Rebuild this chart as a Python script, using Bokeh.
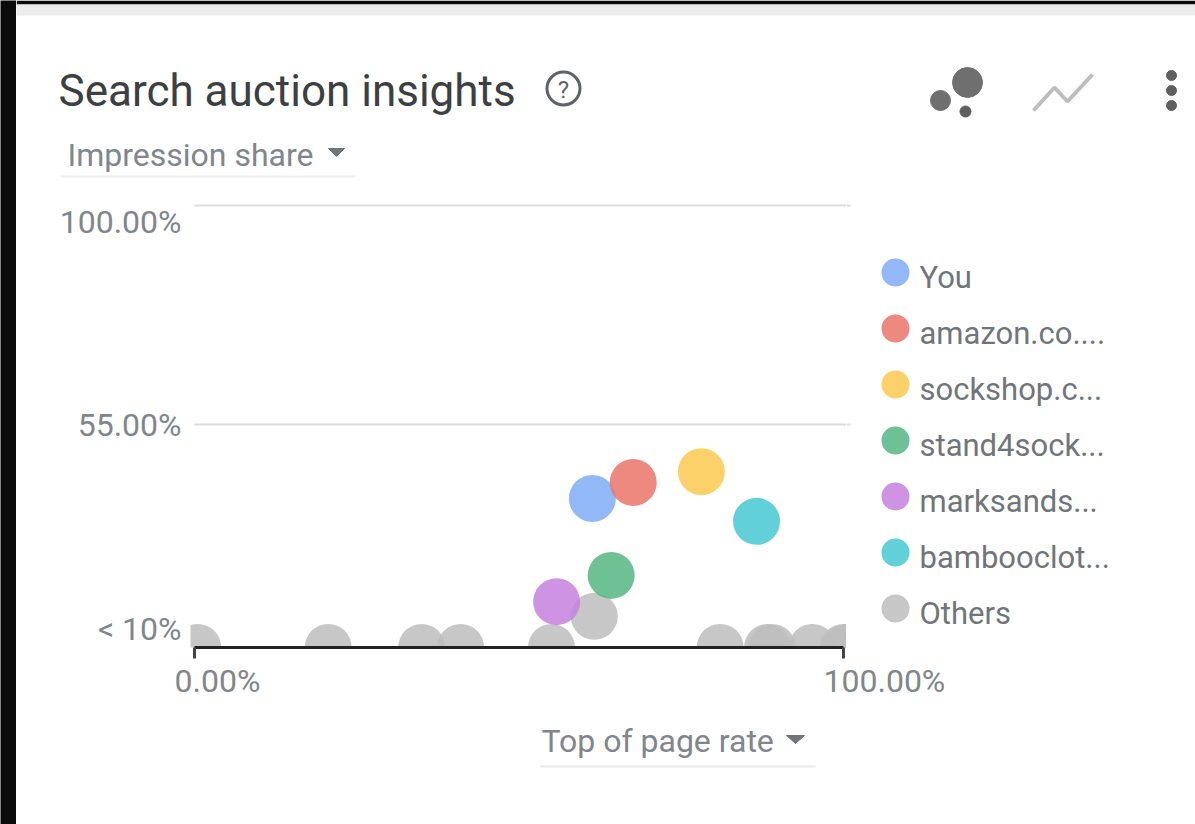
from bokeh.core.properties import value
from bokeh.embed import file_html
from bokeh.layouts import column, row
from bokeh.models import ColumnDataSource, FixedTicker, Range1d
from bokeh.plotting import figure
from bokeh.resources import INLINE

# Competitor bubbles: top of page rate (x) against impression share (y), in percent
series_names = ["You", "amazon.co....", "sockshop.c...", "stand4sock...", "marksands...", "bambooclot...", "Others"]
top_of_page_rate = [[61.3], [67.6], [78.1], [64.2], [55.8], [86.6],
                    [0.5, 20.6, 35.0, 41.0, 55.0, 61.6, 81.0, 88.3, 89.0, 95.2, 100.0, 100.6]]
impression_share = [[39.8], [43.1], [45.3], [24.0], [18.6], [35.1],
                    [9.2, 9.2, 9.2, 9.2, 9.2, 15.6, 9.2, 9.2, 9.2, 9.2, 9.2, 9.2]]
series_colors = ["#7fabf7", "#ea7468", "#fbc94f", "#55b683", "#c681de", "#45c8d2", "#bdbdbd"]

x_ticks = [0, 100]
x_tick_labels = ["0.00%", "100.00%"]
y_ticks = [100, 55, 10]
y_tick_labels = ["100.00%", "55.00%", "< 10%"]
grid_values = [100, 55]

WIDTH, HEIGHT = 1195, 824
EDGE = 16  # width of the dark band down the left of the page
PLOT_L, PLOT_R, PLOT_T, PLOT_B = 190, 846, 200, 647
BAND_B = 660  # lower edge of the row holding the plot and its axis ticks
FONT = value("Roboto")
GREY_TEXT = "#80868b"
DARK = "#0a0a0a"

# Linear scales shared by the plot and the panels around it
X_PER_PX = 1 / 6.49
Y_PER_PX = 1 / 4.867
X0 = -194 * X_PER_PX     # x value at page pixel 0
Y_TOP = 55 + (424 - PLOT_T) * Y_PER_PX   # y value at the top of the plot
Y_BOTTOM = Y_TOP - (PLOT_B - PLOT_T) * Y_PER_PX


def fx(px):
    return X0 + px * X_PER_PX


def panel(w, h, x_range, y_range, **kw):
    fig = figure(width=w, height=h, output_backend="svg", toolbar_location=None,
                 x_range=x_range, y_range=y_range, x_axis_location=None, y_axis_location=None,
                 background_fill_color="white", border_fill_color="white",
                 outline_line_color=None, **{"min_border": 0, **kw})
    fig.grid.visible = False
    return fig


def put_text(fig, x, y, text, size, color=GREY_TEXT, align="left", x_offset=0, y_offset=0):
    fig.text([x], [y], text=[text], text_font=FONT, text_font_size=f"{size}px", text_color=color,
             text_align=align, text_baseline="middle", x_offset=x_offset, y_offset=y_offset)


def strip(fig, left, right, bottom, top, color):
    fig.quad(left=[left], right=[right], bottom=[bottom], top=[top], fill_color=color, line_color=None)


# Dark band at the left of the page
edge = figure(width=EDGE, height=HEIGHT, output_backend="svg", toolbar_location=None,
              x_axis_location=None, y_axis_location=None, min_border=0, outline_line_color=None,
              x_range=Range1d(0, 1), y_range=Range1d(0, 1),
              background_fill_color=DARK, border_fill_color=DARK)
edge.grid.visible = False

# Header panel, in page pixels
head = panel(WIDTH - EDGE, PLOT_T, Range1d(EDGE, WIDTH), Range1d(PLOT_T, 0))
strip(head, EDGE, WIDTH, 4, 0, DARK)
strip(head, EDGE, WIDTH, 15, 4, "#ececec")
put_text(head, 58, 90, "Search auction insights", 44, color="#3c4043")
head.scatter([563], [88], marker="circle", size=33, fill_color=None, line_color="#5f6368", line_width=3)
put_text(head, 563, 89, "?", 24, color="#5f6368", align="center")
put_text(head, 67, 154, "Impression share", 32)
head.patch([328, 344, 336], [148, 148, 156], color="#70757a")
strip(head, 60, 355, 177, 175, "#eeeeee")
# Chart-type and menu icons
head.scatter([967, 940, 965], [82, 100, 111], marker="circle", size=[30, 20, 11], color=["#6f6f6f", "#6f6f6f", "#5f5f5f"])
head.line([1033, 1054, 1067, 1092], [110, 87, 101, 74], line_color="#bdbdbd", line_width=4)
head.scatter([1171, 1171, 1171], [75, 90, 105], marker="circle", size=10, color="#5f5f5f")

# Left panel holding the y labels, on the plot's y scale
left = panel(PLOT_L - EDGE, BAND_B - PLOT_T, Range1d(fx(EDGE), fx(PLOT_L)), Range1d(Y_BOTTOM, Y_TOP),
             min_border_bottom=BAND_B - PLOT_B)
for v, t, off in zip(y_ticks, y_tick_labels, [17, 0, -15]):
    left.text([fx(PLOT_L)], [v], text=[t], text_font=FONT, text_font_size="32px", text_color=GREY_TEXT,
              text_align="right", text_baseline="middle", x_offset=-9, y_offset=off)

# The plot itself
p = figure(width=PLOT_R - PLOT_L, height=BAND_B - PLOT_T, output_backend="svg", toolbar_location=None,
           x_range=Range1d(fx(PLOT_L), fx(PLOT_R)), y_range=Range1d(Y_BOTTOM, Y_TOP),
           y_axis_location=None, min_border=0, min_border_bottom=BAND_B - PLOT_B,
           background_fill_color="white", border_fill_color="white", outline_line_color=None)
ax = p.xaxis[0]
ax.ticker = FixedTicker(ticks=x_ticks)
ax.bounds = (0, 100)
ax.axis_line_color = "#222222"
ax.axis_line_width = 3
ax.major_tick_line_color = "#444444"
ax.major_tick_line_width = 3
ax.major_tick_in = 0
ax.major_tick_out = 11
ax.minor_tick_line_color = None
ax.major_label_text_color = None
ax.major_label_text_font_size = "0px"
ax.major_label_standoff = 0
p.grid.visible = False
p.segment(x0=[0, 0], x1=[101, 101], y0=grid_values, y1=grid_values, line_color="#dcdcdc", line_width=2)

# Others go underneath the named series
for i in [6, 0, 1, 2, 3, 4, 5]:
    src = ColumnDataSource(dict(x=top_of_page_rate[i], y=impression_share[i]))
    p.scatter("x", "y", source=src, marker="circle", size=47,
              fill_color=series_colors[i], fill_alpha=0.85, line_color=None)

# Series key to the right of the plot, in page pixels
key = panel(WIDTH - PLOT_R, BAND_B - PLOT_T, Range1d(PLOT_R, WIDTH), Range1d(PLOT_B, PLOT_T),
            min_border_bottom=BAND_B - PLOT_B)
for n, (name, color) in enumerate(zip(series_names, series_colors)):
    key.scatter([895], [272 + 56 * n], marker="circle", size=28, fill_color=color, fill_alpha=0.85, line_color=None)
    put_text(key, 919, 277 + 56 * n, name, 31, color="#70757a")
key.segment(x0=[846, 846], x1=[850, 850], y0=[205, 424], y1=[205, 424], line_color="#dcdcdc", line_width=2)

# Footer panel with the x labels, on the plot's x scale
foot = panel(WIDTH - EDGE, HEIGHT - BAND_B, Range1d(fx(EDGE), fx(WIDTH)), Range1d(HEIGHT, BAND_B))
for v, t in zip(x_ticks, x_tick_labels):
    put_text(foot, v, 680, t, 32, x_offset=-20)
put_text(foot, fx(541), 740, "Top of page rate", 32)
foot.patch([fx(786), fx(804), fx(795)], [735, 735, 743], color="#70757a")
strip(foot, fx(540), fx(815), 767, 765, "#e8e8e8")

page = row(edge, column(head, row(left, p, key, spacing=0), foot, spacing=0), spacing=0)
open("out.html", "w").write(file_html(page, INLINE))
